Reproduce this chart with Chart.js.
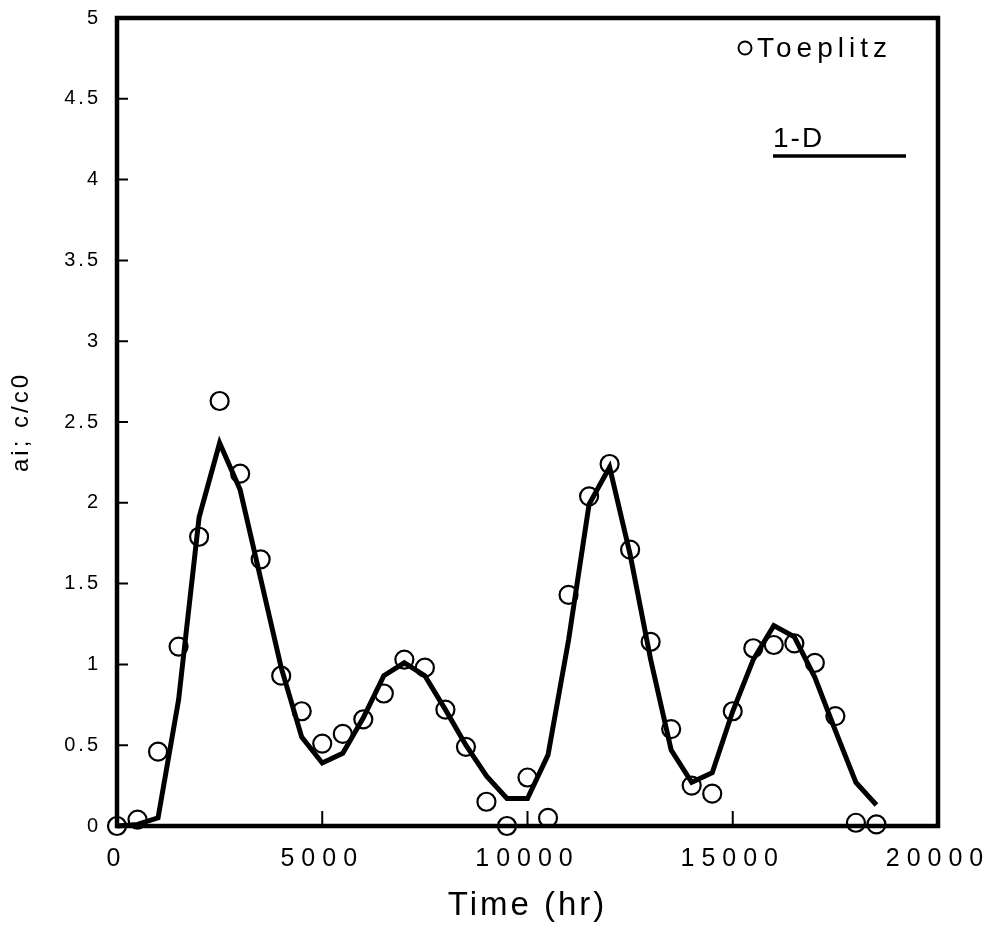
<!DOCTYPE html>
<html>
<head>
<meta charset="utf-8">
<script src="https://cdn.jsdelivr.net/npm/chart.js@4/dist/chart.umd.min.js"></script>
<style>
  html, body { margin: 0; padding: 0; background: #fff; }
  #wrap { width: 994px; height: 929px; }
</style>
</head>
<body>
<div id="wrap"><canvas id="chart" width="994" height="929"></canvas></div>
<script>
// time axis (hr), one reading every 500 hr
const times = [0, 500, 1000, 1500, 2000, 2500, 3000, 3500, 4000, 4500,
  5000, 5500, 6000, 6500, 7000, 7500, 8000, 8500, 9000, 9500,
  10000, 10500, 11000, 11500, 12000, 12500, 13000, 13500, 14000, 14500,
  15000, 15500, 16000, 16500, 17000, 17500, 18000, 18500];

// circles
const toeplitz = [0, 0.04, 0.46, 1.11, 1.79, 2.63, 2.18, 1.65, 0.93, 0.71,
  0.51, 0.57, 0.66, 0.82, 1.03, 0.98, 0.72, 0.49, 0.15, 0.0,
  0.30, 0.05, 1.43, 2.04, 2.24, 1.71, 1.14, 0.60, 0.25, 0.20,
  0.71, 1.10, 1.12, 1.13, 1.01, 0.68, 0.02, 0.01];

// solid line
const oneD = [0, 0.01, 0.05, 0.78, 1.91, 2.37, 2.08, 1.53, 0.98, 0.55,
  0.39, 0.45, 0.67, 0.93, 1.01, 0.93, 0.72, 0.50, 0.31, 0.17,
  0.17, 0.44, 1.15, 1.99, 2.22, 1.68, 1.03, 0.47, 0.27, 0.33,
  0.71, 1.03, 1.24, 1.17, 0.92, 0.59, 0.27, 0.13];

const xTicks = [0, 5000, 10000, 15000, 20000];
const yTicks = [0, 0.5, 1, 1.5, 2, 2.5, 3, 3.5, 4, 4.5, 5];
const xInnerTicks = [5000, 10000, 15000];
const yInnerTicks = [0.5, 1, 1.5, 2, 2.5, 3, 3.5, 4, 4.5];

const FONT = '"Liberation Sans", Arial, Helvetica, sans-serif';

const toPoints = (ys) => times.map((t, i) => ({ x: t, y: ys[i] }));

// frame, inward tick marks, legend; also letter spacing for the axis text
const framePlugin = {
  id: 'frame',
  beforeDraw(chart) {
    chart.ctx.letterSpacing = '3px';
  },
  afterDatasetsDraw(chart) {
    // x tick labels are drawn after the datasets (ticks.z = 1)
    chart.ctx.letterSpacing = '7px';
  },
  afterDraw(chart) {
    const ctx = chart.ctx;
    const { left, right, top, bottom } = chart.chartArea;
    const xs = chart.scales.x;
    const ys = chart.scales.y;
    ctx.save();
    ctx.letterSpacing = '0px';
    ctx.strokeStyle = '#000';
    ctx.fillStyle = '#000';

    ctx.lineWidth = 2;
    ctx.beginPath();
    xInnerTicks.forEach(v => {
      const px = xs.getPixelForValue(v);
      ctx.moveTo(px, bottom);
      ctx.lineTo(px, bottom - 15);
    });
    yInnerTicks.forEach(v => {
      const py = ys.getPixelForValue(v);
      ctx.moveTo(left, py);
      ctx.lineTo(left + 11, py);
    });
    ctx.stroke();

    ctx.lineWidth = 4.5;
    ctx.strokeRect(left, top, right - left, bottom - top);

    // legend
    ctx.lineWidth = 2;
    ctx.beginPath();
    ctx.arc(745, 48, 6.5, 0, Math.PI * 2);
    ctx.stroke();
    ctx.font = '28px ' + FONT;
    ctx.textBaseline = 'middle';
    ctx.textAlign = 'left';
    ctx.letterSpacing = '5px';
    ctx.fillText('Toeplitz', 757, 49);
    ctx.letterSpacing = '2px';
    ctx.fillText('1-D', 773, 139);
    ctx.lineWidth = 3.5;
    ctx.beginPath();
    ctx.moveTo(773, 156);
    ctx.lineTo(906, 156);
    ctx.stroke();
    ctx.restore();
    ctx.letterSpacing = '0px';
  }
};

new Chart(document.getElementById('chart'), {
  type: 'scatter',
  data: {
    datasets: [
      {
        label: 'Toeplitz',
        data: toPoints(toeplitz),
        showLine: false,
        pointStyle: 'circle',
        pointRadius: 9,
        pointBorderWidth: 2.2,
        pointBorderColor: '#000',
        pointBackgroundColor: 'rgba(0,0,0,0)',
        clip: false,
        order: 1
      },
      {
        label: '1-D',
        data: toPoints(oneD),
        showLine: true,
        borderColor: '#000',
        borderWidth: 5,
        tension: 0,
        pointRadius: 0,
        clip: false,
        order: 2
      }
    ]
  },
  options: {
    responsive: false,
    animation: false,
    devicePixelRatio: 1,
    layout: { padding: { top: 18, right: 56, left: 0, bottom: 0 } },
    plugins: {
      legend: { display: false },
      tooltip: { enabled: false }
    },
    scales: {
      x: {
        type: 'linear',
        min: 0,
        max: 20000,
        afterBuildTicks: (s) => { s.ticks = xTicks.map(v => ({ value: v })); },
        afterFit: (s) => { s.height = 103; s.paddingLeft = 0; s.paddingRight = 0; },
        grid: { display: false, drawTicks: false },
        border: { display: false },
        ticks: {
          z: 1,
          color: '#000',
          padding: 18,
          maxRotation: 0,
          autoSkip: false,
          font: { family: FONT, size: 25 },
          callback: (v) => String(v)
        },
        title: {
          display: true,
          text: 'Time (hr)',
          color: '#000',
          font: { family: FONT, size: 33 },
          padding: { top: 0, bottom: 3 }
        }
      },
      y: {
        type: 'linear',
        min: 0,
        max: 5,
        afterBuildTicks: (s) => { s.ticks = yTicks.map(v => ({ value: v })); },
        afterFit: (s) => { s.width = 117; s.paddingTop = 0; s.paddingBottom = 0; },
        grid: { display: false, drawTicks: false },
        border: { display: false },
        ticks: {
          color: '#000',
          padding: 16,
          autoSkip: false,
          font: { family: FONT, size: 20 },
          callback: (v) => String(v)
        },
        title: {
          display: true,
          text: 'ai; c/c0',
          color: '#000',
          font: { family: FONT, size: 24 },
          padding: { top: 7, bottom: 0 }
        }
      }
    }
  },
  plugins: [framePlugin]
});
</script>
</body>
</html>
